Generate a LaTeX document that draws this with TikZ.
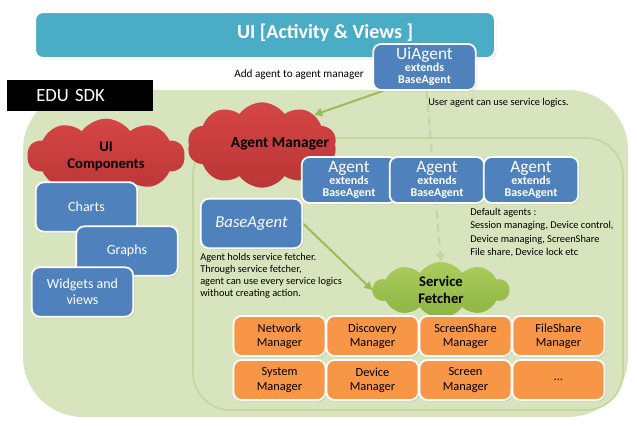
\documentclass[tikz,border=0pt]{standalone}
\usepackage{fontspec}
\setmainfont{Carlito}
\usetikzlibrary{shapes.symbols,shadows,arrows.meta}

\definecolor{uiteal}{HTML}{4BACC6}
\definecolor{boxblue}{HTML}{4F81BD}
\definecolor{mgrorange}{HTML}{F79646}
\definecolor{sdkgreen}{HTML}{D7E4BD}
\definecolor{sdkline}{HTML}{C3D69B}
\definecolor{arrowgreen}{HTML}{9BBB59}
\definecolor{cloudtop}{HTML}{D64545}
\definecolor{cloudbot}{HTML}{BA3636}
\definecolor{fetchtop}{HTML}{ABCD5C}
\definecolor{fetchbot}{HTML}{8DB343}

\newcommand{\fs}[1]{\fontsize{#1}{1.15\dimexpr#1pt\relax}\selectfont}

\pgfdeclarelayer{back}
\pgfdeclarelayer{mid}
\pgfsetlayers{back,mid,main}

\tikzset{
  softshadow/.style={drop shadow={opacity=0.25,shadow xshift=1pt,shadow yshift=-1pt}},
  bluebox/.style={draw=white, line width=1.3pt, fill=boxblue, rounded corners=6pt,
    text=white, align=center, softshadow, inner sep=1pt},
  agentbox/.style={bluebox, minimum width=71pt, minimum height=34.5pt},
  uibox/.style={bluebox, minimum width=76pt, minimum height=37pt, font=\fs{10.5}},
  mgrbox/.style={draw=white, line width=1.3pt, fill=mgrorange, rounded corners=6pt,
    minimum width=69pt, minimum height=30pt, align=center, softshadow,
    font=\fs{9.3}, inner sep=1pt},
  redcloud/.style={cloud, cloud puffs=10, cloud puff arc=110, cloud ignores aspect,
    top color=cloudtop, bottom color=cloudbot, inner sep=0pt},
  note/.style={font=\fs{7.8}, align=left, inner sep=0pt},
  link/.style={arrowgreen, line width=1.5pt, -{Triangle[length=6pt,width=6pt]}},
}

\newcommand{\agenttext}[1]{{\fs{13}#1}\\[-3pt]{\fs{9}\bfseries extends}\\[-3pt]{\fs{9}\bfseries BaseAgent}}

\begin{document}
\begin{tikzpicture}[x=0.75pt,y=-0.75pt]
  \useasboundingbox (0,0) rectangle (637,426);

  % SDK area
  \begin{pgfonlayer}{back}
    \fill[sdkgreen, rounded corners=45pt] (23,90) rectangle (628,417);
    \draw[sdkline, line width=1.2pt, rounded corners=28pt] (193,138) rectangle (623,410);
  \end{pgfonlayer}

  % UI bar
  \node[draw=white, line width=1.5pt, fill=uiteal, rounded corners=6pt, softshadow,
    minimum width=345pt, minimum height=34.5pt] (ui) at (265,35) {};
  \node[text=white, font=\fs{15}\bfseries] (uititle) at (325,33) {UI [Activity \& Views ]};
  \node[bluebox, minimum width=77pt, minimum height=34.5pt] (uiagent) at (424.5,67)
    {\agenttext{UiAgent}};
  \node[font=\fs{8.4}] (addtxt) at (299,75) {Add agent to agent manager};

  \node[fill=black, minimum width=109.5pt, minimum height=23pt, inner xsep=0pt,
    text width=109.5pt, align=left, text=white, font=\fs{14}]
    (edu) at (80,95.5) {\hspace*{22pt}EDU SDK};
  \node[note, anchor=west] (usertxt) at (428,103) {User agent can use service logics.};

  % UI components
  \node[redcloud, minimum width=118pt, minimum height=56pt, font=\fs{11}\bfseries, align=center]
    (uicomp) at (106,156) {UI\\Components};
  \node[uibox] (charts) at (86.5,207) {Charts};
  \node[uibox] (graphs) at (127,251) {Graphs};
  \node[uibox] (widgets) at (82.5,292) {Widgets and\\views};

  % Agent manager
  \node[redcloud, minimum width=112pt, minimum height=64pt] (amgr) at (262,145) {};
  \node[font=\fs{11.5}\bfseries] (amgrtxt) at (280,144) {Agent Manager};
  \node[uibox, font=\fs{12.5}\itshape] (base) at (251.5,223.5) {BaseAgent};
  \node[note, anchor=north west] (basetxt) at (200,253)
    {Agent holds service fetcher.\\Through service fetcher,\\agent can use every service logics\\without creating action.};

  \node[agentbox] (agent1) at (349,180) {\agenttext{Agent}};
  \node[agentbox] (agent2) at (437,180) {\agenttext{Agent}};
  \node[agentbox] (agent3) at (531,180) {\agenttext{Agent}};
  \node[note, anchor=north west] (deftxt) at (470,208)
    {Default agents :\\[1pt]Session managing, Device control,\\[1pt]Device managing, ScreenShare\\[1pt]File share, Device lock etc};

  % Service fetcher
  \node[cloud, cloud puffs=10, cloud puff arc=110, cloud ignores aspect,
    top color=fetchtop, bottom color=fetchbot, minimum width=102pt, minimum height=42pt,
    font=\fs{11}\bfseries, align=center, inner sep=0pt]
    (fetcher) at (441,290) {Service\\Fetcher};

  % Managers
  \foreach \name/\txt [count=\i] in {net/Network\\Manager, disc/Discovery\\Manager,
      share/ScreenShare\\Manager, file/FileShare\\Manager}
    \node[mgrbox] (\name) at (186.5+93*\i,336) {\txt};
  \foreach \name/\txt [count=\i] in {sys/System\\Manager, dev/Device\\Manager,
      scr/Screen\\Manager, more/{\ldots}}
    \node[mgrbox] (\name) at (186.5+93*\i,380) {\txt};

  % Connectors
  \begin{pgfonlayer}{mid}
    \draw[link] (uiagent.210) -- (amgr.30);
    \draw[link, sdkline, dashed, dash pattern=on 6pt off 4pt] (uiagent.275) -- (fetcher.north);
    \draw[link] (base.east) -- (fetcher.west);
  \end{pgfonlayer}

\end{tikzpicture}
\end{document}
